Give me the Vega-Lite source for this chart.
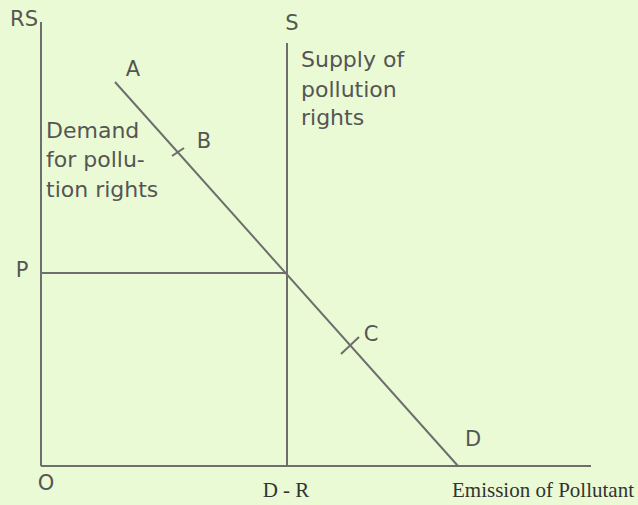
{
  "$schema": "https://vega.github.io/schema/vega-lite/v6.json",
  "width": 638,
  "height": 505,
  "autosize": {"type": "fit", "contains": "padding"},
  "padding": 0,
  "background": "#eafad4",
  "config": {"view": {"stroke": null}},
  "datasets": {
    "segments": [
      {"name": "y axis", "x": 0, "y": 0, "x2": 0, "y2": 444},
      {"name": "x axis", "x": 0, "y": 0, "x2": 550, "y2": 0},
      {"name": "supply", "x": 246, "y": 0, "x2": 246, "y2": 423},
      {"name": "price", "x": 0, "y": 193, "x2": 246, "y2": 193},
      {"name": "demand", "x": 74, "y": 384, "x2": 417, "y2": 0},
      {"name": "tick B", "x": 131, "y": 310, "x2": 143, "y2": 318},
      {"name": "tick C", "x": 300, "y": 112, "x2": 318, "y2": 129}
    ],
    "points": [
      {"label": "RS", "x": -17, "y": 440},
      {"label": "S", "x": 251, "y": 436},
      {"label": "A", "x": 92, "y": 390},
      {"label": "B", "x": 163, "y": 318},
      {"label": "C", "x": 330, "y": 125},
      {"label": "D", "x": 432, "y": 20},
      {"label": "P", "x": -19, "y": 189},
      {"label": "O", "x": 5, "y": -24}
    ],
    "notes": [
      {"label": "Demand", "x": 5, "y": 328},
      {"label": "for pollu-", "x": 5, "y": 299},
      {"label": "tion rights", "x": 5, "y": 269},
      {"label": "Supply of", "x": 260, "y": 399},
      {"label": "pollution", "x": 260, "y": 369},
      {"label": "rights", "x": 260, "y": 341}
    ],
    "axisTitles": [
      {"label": "D - R", "x": 245, "y": -31},
      {"label": "Emission of Pollutant", "x": 502, "y": -31}
    ]
  },
  "layer": [
    {
      "data": {"name": "segments"},
      "mark": {"type": "rule", "color": "#6e6e6e", "strokeWidth": 2},
      "encoding": {
        "x": {"field": "x", "type": "quantitative", "scale": {"domain": [-41, 597], "nice": false, "zero": false}, "axis": null},
        "y": {"field": "y", "type": "quantitative", "scale": {"domain": [-39, 466], "nice": false, "zero": false}, "axis": null},
        "x2": {"field": "x2"},
        "y2": {"field": "y2"}
      }
    },
    {
      "data": {"name": "points"},
      "mark": {"type": "text", "font": "DejaVu Sans", "fontSize": 21, "color": "#555555", "align": "center", "baseline": "alphabetic"},
      "encoding": {
        "x": {"field": "x", "type": "quantitative"},
        "y": {"field": "y", "type": "quantitative"},
        "text": {"field": "label", "type": "nominal"}
      }
    },
    {
      "data": {"name": "notes"},
      "mark": {"type": "text", "font": "DejaVu Sans", "fontSize": 22, "color": "#555555", "align": "left", "baseline": "alphabetic"},
      "encoding": {
        "x": {"field": "x", "type": "quantitative"},
        "y": {"field": "y", "type": "quantitative"},
        "text": {"field": "label", "type": "nominal"}
      }
    },
    {
      "data": {"name": "axisTitles"},
      "mark": {"type": "text", "font": "Liberation Serif", "fontSize": 21, "color": "#333333", "align": "center", "baseline": "alphabetic"},
      "encoding": {
        "x": {"field": "x", "type": "quantitative"},
        "y": {"field": "y", "type": "quantitative"},
        "text": {"field": "label", "type": "nominal"}
      }
    }
  ]
}
